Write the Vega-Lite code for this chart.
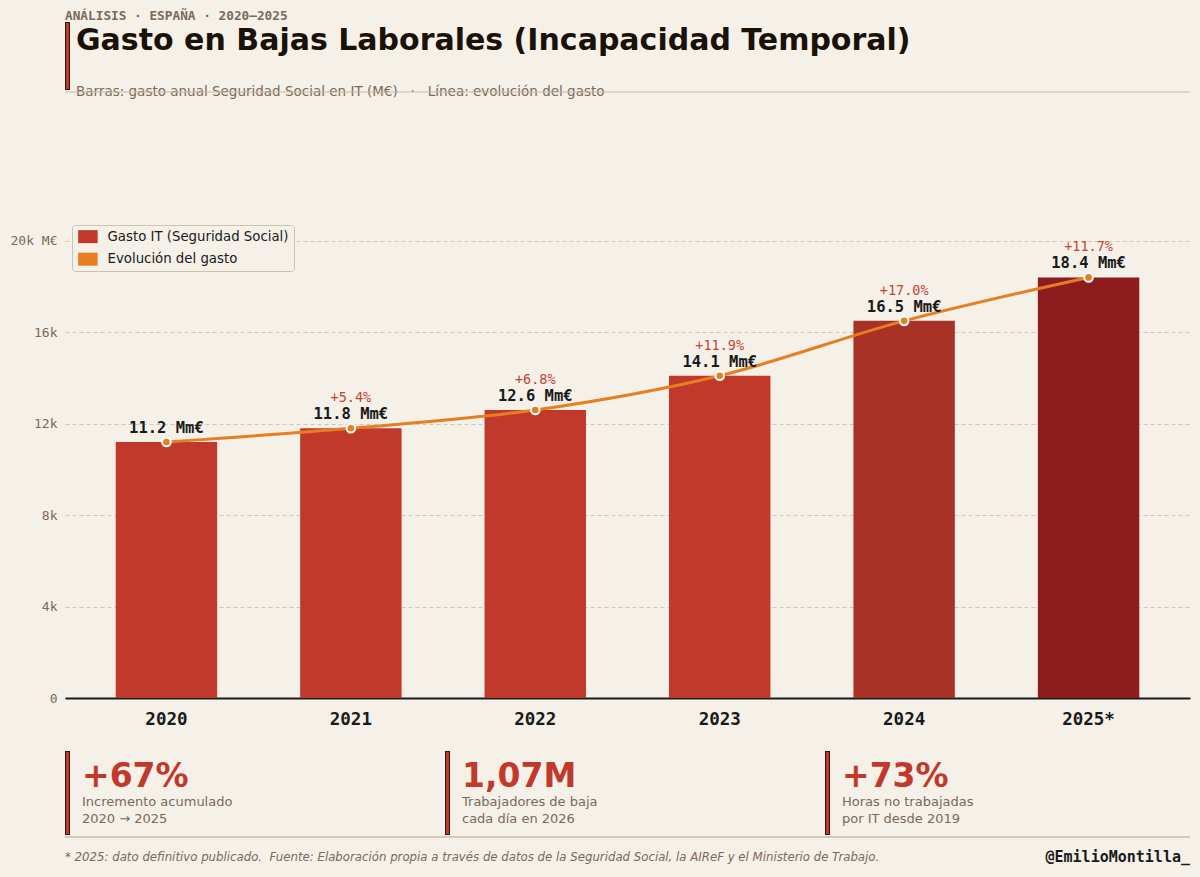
{
  "$schema": "https://vega.github.io/schema/vega-lite/v6.json",
  "background": "#f5f0e8",
  "padding": {"left": 10, "top": 0, "right": 10, "bottom": 0},
  "bounds": "flush",
  "spacing": 0,
  "resolve": {
    "scale": {"x": "independent", "y": "independent", "color": "independent"},
    "legend": {"color": "independent"}
  },
  "datasets": {
    "gasto": [
      {"anio": "2020", "gasto": 11200, "tramo": "Gasto IT (Seguridad Social)", "etiqueta": "11.2 Mm€", "variacion": ""},
      {"anio": "2021", "gasto": 11800, "tramo": "Gasto IT (Seguridad Social)", "etiqueta": "11.8 Mm€", "variacion": "+5.4%"},
      {"anio": "2022", "gasto": 12600, "tramo": "Gasto IT (Seguridad Social)", "etiqueta": "12.6 Mm€", "variacion": "+6.8%"},
      {"anio": "2023", "gasto": 14100, "tramo": "Gasto IT (Seguridad Social)", "etiqueta": "14.1 Mm€", "variacion": "+11.9%"},
      {"anio": "2024", "gasto": 16500, "tramo": "Gasto IT 2024", "etiqueta": "16.5 Mm€", "variacion": "+17.0%"},
      {"anio": "2025*", "gasto": 18400, "tramo": "Gasto IT 2025", "etiqueta": "18.4 Mm€", "variacion": "+11.7%"}
    ],
    "kpis": [
      {"kpi": "acumulado", "valor": "+67%", "texto": "Incremento acumulado\n2020 → 2025"},
      {"kpi": "bajas", "valor": "1,07M", "texto": "Trabajadores de baja\ncada día en 2026"},
      {"kpi": "horas", "valor": "+73%", "texto": "Horas no trabajadas\npor IT desde 2019"}
    ]
  },
  "vconcat": [
    {
      "width": 1125,
      "height": 218,
      "data": {"values": [{}]},
      "layer": [
        {
          "mark": {"type": "text", "text": "ANÁLISIS · ESPAÑA · 2020–2025", "font": "DejaVu Sans Mono", "fontWeight": "bold", "fontSize": 12.75, "color": "#7a6a5a", "align": "left", "baseline": "alphabetic"},
          "encoding": {
            "x": {"datum": 0, "type": "quantitative", "scale": {"domain": [0, 1125], "nice": false}, "axis": null},
            "y": {"datum": 20, "type": "quantitative", "scale": {"domain": [0, 218], "reverse": true, "nice": false}, "axis": null}
          }
        },
        {
          "mark": {"type": "rule", "color": "#2a1a12", "strokeWidth": 5},
          "encoding": {
            "x": {"datum": 2.5, "type": "quantitative"},
            "y": {"datum": 22, "type": "quantitative"},
            "y2": {"datum": 90}
          }
        },
        {
          "mark": {"type": "rule", "color": "#c0392b", "strokeWidth": 3},
          "encoding": {
            "x": {"datum": 2.5, "type": "quantitative"},
            "y": {"datum": 23, "type": "quantitative"},
            "y2": {"datum": 89}
          }
        },
        {
          "mark": {"type": "text", "text": "Gasto en Bajas Laborales (Incapacidad Temporal)", "font": "DejaVu Sans", "fontWeight": "bold", "fontSize": 30, "color": "#1a1208", "align": "left", "baseline": "alphabetic"},
          "encoding": {
            "x": {"datum": 11, "type": "quantitative"},
            "y": {"datum": 50, "type": "quantitative"}
          }
        },
        {
          "mark": {"type": "text", "text": "Barras: gasto anual Seguridad Social en IT (M€)\u00a0\u00a0\u00a0·\u00a0\u00a0\u00a0Línea: evolución del gasto", "font": "DejaVu Sans", "fontSize": 13.5, "color": "#7a6a5a", "align": "left", "baseline": "alphabetic"},
          "encoding": {
            "x": {"datum": 11, "type": "quantitative"},
            "y": {"datum": 96, "type": "quantitative"}
          }
        },
        {
          "mark": {"type": "rule", "color": "#c9b9a2", "strokeWidth": 1.2},
          "encoding": {
            "x": {"datum": 0, "type": "quantitative"},
            "x2": {"datum": 1125},
            "y": {"datum": 92, "type": "quantitative"}
          }
        }
      ]
    },
    {
      "width": 1125,
      "height": 480,
      "data": {"name": "gasto"},
      "encoding": {
        "x": {
          "field": "anio",
          "type": "nominal",
          "sort": null,
          "scale": {"paddingInner": 0.45, "paddingOuter": 0.275},
          "axis": {
            "title": null,
            "labelAngle": 0,
            "labelFont": "DejaVu Sans Mono",
            "labelFontWeight": "bold",
            "labelFontSize": 17.5,
            "labelColor": "#1a1a1a",
            "labelPadding": 12,
            "ticks": false,
            "domainColor": "#1a1a1a",
            "domainWidth": 2,
            "grid": false
          }
        },
        "y": {
          "field": "gasto",
          "type": "quantitative",
          "scale": {"domain": [0, 21000], "nice": false},
          "axis": {
            "title": null,
            "values": [0, 4000, 8000, 12000, 16000, 20000],
            "labelExpr": "datum.value == 20000 ? '20k M€' : datum.value == 0 ? '0' : (datum.value / 1000) + 'k'",
            "labelFont": "DejaVu Sans Mono",
            "labelFontSize": 13,
            "labelColor": "#7a6a5a",
            "labelPadding": 8,
            "ticks": false,
            "domain": false,
            "grid": true,
            "gridColor": "#cbbba2",
            "gridDash": [4, 3],
            "gridWidth": 0.8
          }
        }
      },
      "layer": [
        {
          "mark": {"type": "bar", "opacity": 1},
          "encoding": {
            "color": {
              "field": "tramo",
              "type": "nominal",
              "scale": {
                "domain": ["Gasto IT (Seguridad Social)", "Gasto IT 2024", "Gasto IT 2025", "Evolución del gasto"],
                "range": ["#c0392b", "#a93226", "#8e1c1e", "#e67e22"]
              },
              "legend": {
                "title": null,
                "values": ["Gasto IT (Seguridad Social)", "Evolución del gasto"],
                "orient": "top-left",
                "offset": 7,
                "padding": 5,
                "fillColor": "#f5f0e8",
                "strokeColor": "#cfc3ae",
                "cornerRadius": 3,
                "symbolType": "M-1.5,-1H1.5V1H-1.5Z",
                "symbolSize": 169,
                "symbolOffset": 4.25,
                "symbolStrokeWidth": 0,
                "symbolOpacity": 1,
                "labelFont": "DejaVu Sans",
                "labelFontSize": 13.3,
                "labelColor": "#1a1a1a",
                "labelOffset": 13,
                "labelLimit": 400,
                "rowPadding": 7.5
              }
            }
          }
        },
        {
          "mark": {"type": "line", "color": "#e67e22", "strokeWidth": 3, "interpolate": "monotone"}
        },
        {
          "mark": {"type": "point", "filled": true, "fill": "#e67e22", "stroke": "#ffffff", "strokeWidth": 2, "size": 75, "opacity": 1}
        },
        {
          "mark": {"type": "text", "font": "DejaVu Sans Mono", "fontWeight": "bold", "fontSize": 15.5, "color": "#1a1a1a", "baseline": "alphabetic", "dy": -9},
          "encoding": {"text": {"field": "etiqueta"}}
        },
        {
          "mark": {"type": "text", "font": "DejaVu Sans Mono", "fontSize": 13.5, "color": "#c44536", "baseline": "alphabetic", "dy": -26},
          "encoding": {"text": {"field": "variacion"}}
        }
      ]
    },
    {
      "width": 1125,
      "height": 139,
      "data": {"name": "kpis"},
      "layer": [
        {
          "mark": {"type": "rule", "color": "#2a1a12", "strokeWidth": 5, "xOffset": 2.5},
          "encoding": {
            "x": {"field": "kpi", "type": "nominal", "sort": null, "bandPosition": 0, "scale": {"type": "band", "range": [0, 1140], "paddingInner": 0, "paddingOuter": 0}, "axis": null},
            "y": {"datum": 53, "type": "quantitative", "scale": {"domain": [0, 139], "reverse": true, "nice": false}, "axis": null},
            "y2": {"datum": 137}
          }
        },
        {
          "mark": {"type": "rule", "color": "#c0392b", "strokeWidth": 3, "xOffset": 2.5},
          "encoding": {
            "x": {"field": "kpi", "type": "nominal", "sort": null, "bandPosition": 0},
            "y": {"datum": 54, "type": "quantitative"},
            "y2": {"datum": 136}
          }
        },
        {
          "mark": {"type": "text", "font": "DejaVu Sans", "fontWeight": "bold", "fontSize": 33, "color": "#c0392b", "align": "left", "baseline": "alphabetic", "dx": 17},
          "encoding": {
            "x": {"field": "kpi", "type": "nominal", "sort": null, "bandPosition": 0},
            "y": {"datum": 89, "type": "quantitative"},
            "text": {"field": "valor"}
          }
        },
        {
          "mark": {"type": "text", "font": "DejaVu Sans", "fontSize": 13, "color": "#7a6a5a", "align": "left", "baseline": "alphabetic", "dx": 17, "lineBreak": "\n", "lineHeight": 17},
          "encoding": {
            "x": {"field": "kpi", "type": "nominal", "sort": null, "bandPosition": 0},
            "y": {"datum": 108, "type": "quantitative"},
            "text": {"field": "texto"}
          }
        },
        {
          "mark": {"type": "rule", "color": "#d2c4ad", "strokeWidth": 1.2},
          "encoding": {
            "y": {"datum": 139, "type": "quantitative"}
          }
        }
      ]
    },
    {
      "width": 1125,
      "height": 40,
      "data": {"values": [{}]},
      "layer": [
        {
          "mark": {"type": "text", "text": "* 2025: dato definitivo publicado.\u00a0\u00a0Fuente: Elaboración propia a través de datos de la Seguridad Social, la AIReF y el Ministerio de Trabajo.", "font": "DejaVu Sans", "fontStyle": "italic", "fontSize": 11.75, "color": "#7a6a5a", "align": "left", "baseline": "alphabetic"},
          "encoding": {
            "x": {"datum": 0, "type": "quantitative", "scale": {"domain": [0, 1125], "nice": false}, "axis": null},
            "y": {"datum": 24, "type": "quantitative", "scale": {"domain": [0, 40], "reverse": true, "nice": false}, "axis": null}
          }
        },
        {
          "mark": {"type": "text", "text": "@EmilioMontilla_", "font": "DejaVu Sans Mono", "fontWeight": "bold", "fontSize": 15, "color": "#1a1a1a", "align": "right", "baseline": "alphabetic"},
          "encoding": {
            "x": {"datum": 1125, "type": "quantitative"},
            "y": {"datum": 25, "type": "quantitative"}
          }
        }
      ]
    }
  ],
  "config": {
    "view": {"stroke": null},
    "font": "DejaVu Sans"
  }
}
